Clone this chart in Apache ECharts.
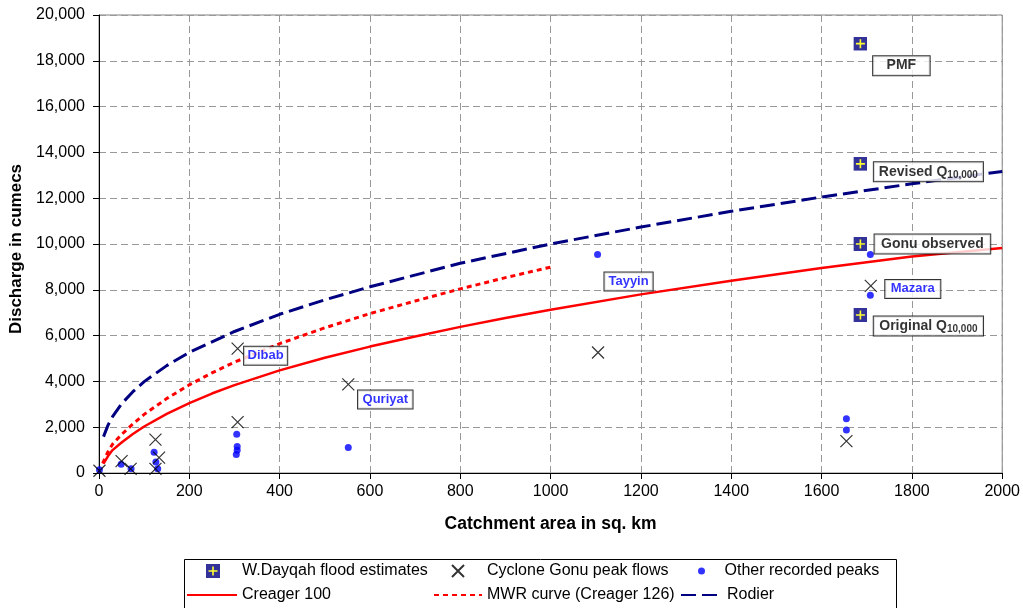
<!DOCTYPE html>
<html><head><meta charset="utf-8">
<script src="https://cdn.jsdelivr.net/npm/echarts@6/dist/echarts.min.js"></script>
<style>html,body{margin:0;padding:0;background:#fff}#c{width:1023px;height:608px}</style>
</head><body><div id="c"></div>
<script>
// ---- data ----
const dayqahArea = [1686, 1686, 1686, 1686];
const dayqahQ = [18750, 13500, 10000, 6900];
const dayqahLabels = ['PMF', 'Revised Q', 'Gonu observed', 'Original Q'];

const gonuArea = [1, 50, 70, 125, 133, 125, 307, 307, 552, 1105, 1709, 1655];
const gonuQ = [100, 520, 180, 1460, 670, 180, 5430, 2220, 3870, 5260, 8170, 1390];

const otherArea = [1, 49, 71, 122, 126, 130, 305, 306, 306, 304, 552, 1104, 1708, 1708, 1655, 1655];
const otherQ = [140, 380, 190, 910, 480, 190, 1690, 1160, 990, 810, 1110, 9540, 9540, 7760, 2370, 1880];

const creagerArea = [10, 20, 30, 50, 75, 100, 150, 200, 250, 300, 400, 500, 600, 700, 800, 900, 1000, 1200, 1400, 1600, 1800, 2000];
const creagerQ = [405, 740, 1000, 1330, 1700, 2030, 2580, 3050, 3470, 3840, 4480, 5030, 5520, 5960, 6380, 6770, 7130, 7800, 8400, 8950, 9450, 9830];

const mwrArea = [8, 20, 30, 50, 75, 100, 150, 200, 250, 300, 400, 500, 600, 700, 800, 900, 1000];
const mwrQ = [420, 930, 1260, 1680, 2140, 2560, 3250, 3850, 4370, 4840, 5650, 6340, 6960, 7510, 8040, 8530, 8990];

const rodierArea = [10, 20, 30, 50, 75, 100, 150, 200, 300, 400, 500, 600, 800, 1000, 1200, 1400, 1600, 1800, 2000];
const rodierQ = [1590, 2090, 2460, 3020, 3550, 3990, 4690, 5270, 6180, 6930, 7560, 8130, 9160, 10000, 10740, 11430, 12050, 12630, 13170];

const seriesNames = ['W.Dayqah flood estimates', 'Cyclone Gonu peak flows', 'Other recorded peaks',
  'Creager 100', 'MWR curve (Creager 126)', 'Rodier'];

// ---- styling ----
const FONT = "'Liberation Sans', Arial, sans-serif";
const zip = (a, b) => a.map((v, i) => [v, b[i]]);
const boxLabel = (text, off, color, size, hpad, sub) => ({
  show: true, position: 'inside', offset: off,
  formatter: sub ? '{b|' + text + '}{s|10,000}' : '{b|' + text + '}',
  backgroundColor: '#fff', borderColor: '#000', borderWidth: 1, padding: [1, hpad, 1, hpad],
  rich: {
    b: { fontFamily: FONT, fontSize: size, fontWeight: 'bold', color: color, lineHeight: size + 3, verticalAlign: 'middle' },
    s: { fontFamily: FONT, fontSize: 10, fontWeight: 'bold', color: color, lineHeight: 10, verticalAlign: 'bottom' }
  }
});

const squareSvg = "<svg xmlns='http://www.w3.org/2000/svg' width='14' height='14'><rect width='14' height='14' fill='#000080'/><path d='M7,2.5V11.5M2.5,7H11.5' stroke='#ffff00' stroke-width='1.6'/></svg>";
const squareSym = 'image://data:image/svg+xml;charset=utf-8,' + encodeURIComponent(squareSvg);
const xSym = 'path://M0,0L10,10M10,0L0,10';

const dayqahOffsets = [[41, 22], [68, 8], [72, 0], [68, 11]];
const dayqahPads = [13.5, 5, 6.5, 5.5];
const dayqahData = zip(dayqahArea, dayqahQ).map((p, i) => ({
  value: p, label: boxLabel(dayqahLabels[i], dayqahOffsets[i], '#000', 14, dayqahPads[i], i === 1 || i === 3)
}));
const gonuData = zip(gonuArea, gonuQ).map(p => ({ value: p }));
gonuData[6].label = boxLabel('Dibab', [28, 7], '#0000ff', 13, 3.5);
gonuData[8].label = boxLabel('Quriyat', [37, 15], '#0000ff', 13, 4.5);
gonuData[10].label = boxLabel('Mazara', [42, 3], '#0000ff', 13, 5.5);
const otherData = zip(otherArea, otherQ).map(p => ({ value: p }));
otherData[11].label = boxLabel('Tayyin', [31, 27], '#0000ff', 13, 4);

const lgText = { fontFamily: FONT, fontSize: 16, color: '#000' };
const mkLegend = (name, left, top, w, h, hideSymbol) => {
  const l = {
    data: [name], left: left, top: top, itemWidth: w, itemHeight: h, padding: 0,
    selectedMode: false, textStyle: lgText, itemGap: 0
  };
  if (hideSymbol) l.itemStyle = { opacity: 0 };
  return l;
};

const option = {
  animation: false,
  backgroundColor: '#fff',
  grid: { left: 99, top: 15, right: 19, bottom: 135, show: true, borderColor: '#808080', borderWidth: 1 },
  xAxis: {
    type: 'value', min: 0, max: 2000, interval: 200,
    name: 'Catchment area in sq. km', nameLocation: 'middle', nameGap: 42,
    nameTextStyle: { fontFamily: FONT, fontSize: 17.5, fontWeight: 'bold', color: '#000' },
    axisLine: { show: true, onZero: false, lineStyle: { color: '#000', width: 1 } },
    axisTick: { show: true, length: 6, lineStyle: { color: '#000' } },
    axisLabel: { fontFamily: FONT, fontSize: 16, color: '#000', margin: 11, formatter: v => String(v) },
    splitLine: { show: true, lineStyle: { color: '#999', width: 1, type: [7, 4] } }
  },
  yAxis: {
    type: 'value', min: 0, max: 20000, interval: 2000,
    name: 'Discharge in cumecs', nameLocation: 'middle', nameGap: 71,
    nameTextStyle: { fontFamily: FONT, fontSize: 17, fontWeight: 'bold', color: '#000', padding: [0, 10, 0, 0] },
    axisLine: { show: true, lineStyle: { color: '#000', width: 1 } },
    axisTick: { show: true, length: 6, lineStyle: { color: '#000' } },
    axisLabel: { fontFamily: FONT, fontSize: 16, color: '#000', margin: 14,
      formatter: v => v.toLocaleString('en-US') },
    splitLine: { show: true, lineStyle: { color: '#999', width: 1, type: [7, 4] } }
  },
  legend: [
    mkLegend(seriesNames[0], 189, 563, 48, 14),
    mkLegend(seriesNames[1], 451, 563, 48, 12),
    mkLegend(seriesNames[2], 698, 563, 36, 7),
    mkLegend(seriesNames[3], 186, 587, 50, 14, true),
    mkLegend(seriesNames[4], 433, 587, 48, 14, true),
    mkLegend(seriesNames[5], 680, 587, 41, 14, true)
  ],
  graphic: [{
    type: 'rect', left: 182, top: 557, z: 0,
    shape: { width: 712, height: 50 },
    style: { fill: 'none', stroke: '#000', lineWidth: 1 }
  }],
  series: [
    { name: seriesNames[3], type: 'line', data: zip(creagerArea, creagerQ), symbol: 'none', showSymbol: false,
      smooth: false, z: 2, lineStyle: { color: '#ff0000', width: 2.5, type: 'solid' }, itemStyle: { color: '#ff0000' } },
    { name: seriesNames[4], type: 'line', data: zip(mwrArea, mwrQ), symbol: 'none', showSymbol: false,
      smooth: false, z: 2, lineStyle: { color: '#ff0000', width: 3, type: [5, 4] }, itemStyle: { color: '#ff0000' } },
    { name: seriesNames[5], type: 'line', data: zip(rodierArea, rodierQ), symbol: 'none', showSymbol: false,
      smooth: false, z: 2, lineStyle: { color: '#000080', width: 3, type: [15, 6] }, itemStyle: { color: '#000080' } },
    { name: seriesNames[2], type: 'scatter', data: otherData, symbol: 'circle', symbolSize: 7, z: 3,
      itemStyle: { color: '#0000ff' } },
    { name: seriesNames[1], type: 'scatter', data: gonuData, symbol: xSym, symbolSize: 12, z: 4,
      itemStyle: { color: 'rgba(0,0,0,0)', borderColor: '#000', borderWidth: 1.2 } },
    { name: seriesNames[0], type: 'scatter', data: dayqahData, symbol: squareSym, symbolSize: 14, z: 5,
      itemStyle: { color: '#000080' } }
  ]
};
const chart = echarts.init(document.getElementById('c'), null, { renderer: 'canvas' });
chart.setOption(option);
</script>
</body></html>
